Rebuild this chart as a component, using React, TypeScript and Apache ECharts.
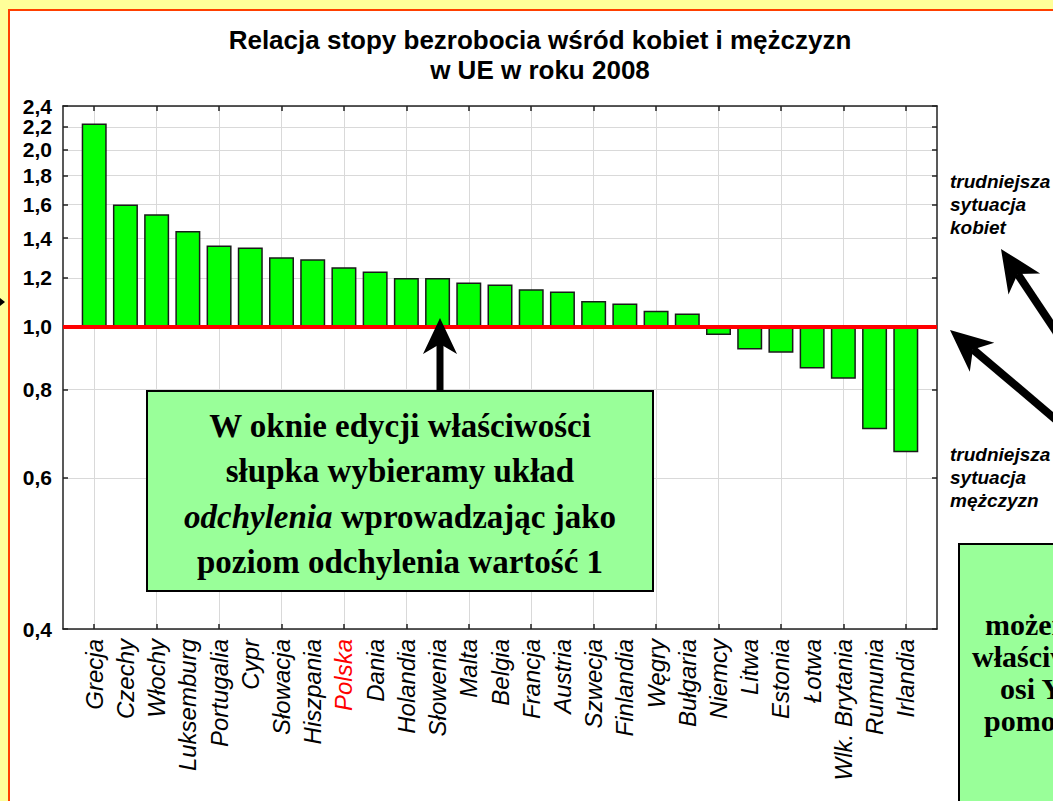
import React, { useEffect, useRef } from 'react';
import * as echarts from 'echarts';

// ---- data ----
const countries: string[] = [
  'Grecja', 'Czechy', 'Włochy', 'Luksemburg', 'Portugalia', 'Cypr', 'Słowacja', 'Hiszpania', 'Polska',
  'Dania', 'Holandia', 'Słowenia', 'Malta', 'Belgia', 'Francja', 'Austria', 'Szwecja', 'Finlandia',
  'Węgry', 'Bułgaria', 'Niemcy', 'Litwa', 'Estonia', 'Łotwa', 'Wlk. Brytania', 'Rumunia', 'Irlandia',
];
const ratios: number[] = [
  2.23, 1.6, 1.54, 1.44, 1.36, 1.35, 1.3, 1.29, 1.25,
  1.23, 1.2, 1.2, 1.18, 1.17, 1.15, 1.14, 1.1, 1.09,
  1.06, 1.05, 0.97, 0.92, 0.91, 0.86, 0.83, 0.7, 0.65,
];
const yTicks: number[] = [0.4, 0.6, 0.8, 1.0, 1.2, 1.4, 1.6, 1.8, 2.0, 2.2, 2.4];
const highlighted = 'Polska';
const baseline = 1.0; // deviation level
const scaleOffset = 0.2; // axis scale: ln(v - 0.2)
const titleLines = ['Relacja stopy bezrobocia wśród kobiet i mężczyzn', 'w UE w roku 2008'];

// ---- axis transform ----
const fwd = (v: number) => Math.log((v - scaleOffset) / (baseline - scaleOffset));
const inv = (t: number) => scaleOffset + (baseline - scaleOffset) * Math.exp(t);

const SANS = '"Liberation Sans", Arial, sans-serif';
const SERIF = '"Liberation Serif", "Times New Roman", serif';

function arrow(tip: number[], tail: number[], L: number, W: number, n: number, w: number) {
  const dx = tip[0] - tail[0];
  const dy = tip[1] - tail[1];
  const len = Math.hypot(dx, dy);
  const ux = dx / len, uy = dy / len;
  const px = -uy, py = ux;
  const back = [tip[0] - L * ux, tip[1] - L * uy];
  const notch = [tip[0] - (L - n) * ux, tip[1] - (L - n) * uy];
  return [
    { type: 'polyline', z: 100, shape: { points: [tail, notch] }, style: { stroke: '#000', lineWidth: w, fill: null } },
    {
      type: 'polygon', z: 101,
      shape: { points: [tip, [back[0] + W * px, back[1] + W * py], notch, [back[0] - W * px, back[1] - W * py]] },
      style: { fill: '#000' },
    },
  ];
}

export default function App() {
  const ref = useRef<HTMLDivElement>(null);

  useEffect(() => {
    if (!ref.current) return;
    const chart = echarts.init(ref.current, null, { renderer: 'svg' });
    const cats = [' ', ...countries, '  '];
    const values: any[] = ['-', ...ratios.map(fwd), '-'];
    const oddOnly = (i: number) => i % 2 === 1;
    const yMin = fwd(yTicks[0]);
    const yMax = fwd(yTicks[yTicks.length - 1]);
    const yLabelStyle = {
      margin: 11, fontWeight: 'bold', fontFamily: SANS, fontSize: 21, color: '#000',
      formatter: (t: number) => inv(t).toFixed(1).replace('.', ','),
    };

    const option: any = {
      animation: false,
      backgroundColor: '#ffffff',
      grid: { left: 63, right: 116, top: 106, bottom: 172, containLabel: false, outerBoundsMode: 'none' },
      xAxis: [
        {
          type: 'category', data: cats, boundaryGap: false, position: 'bottom',
          axisLine: { show: true, onZero: false, lineStyle: { color: '#222', width: 1.5 } },
          axisTick: { show: true, inside: true, length: 5, interval: oddOnly, lineStyle: { color: '#222', width: 1.5 } },
          splitLine: { show: true, interval: oddOnly, lineStyle: { color: '#d9d9d9', width: 1 } },
          axisLabel: {
            interval: 0, rotate: 90, margin: 10,
            fontStyle: 'italic', fontFamily: SANS, fontSize: 24,
            color: (val: string) => (val === highlighted ? '#ff0000' : '#000000'),
          },
        },
        {
          type: 'category', data: cats, boundaryGap: false, position: 'top',
          axisLine: { show: true, onZero: false, lineStyle: { color: '#222', width: 1.5 } },
          axisTick: { show: true, inside: true, length: 5, interval: oddOnly, lineStyle: { color: '#222', width: 1.5 } },
          splitLine: { show: false },
          axisLabel: { show: false },
        },
      ],
      yAxis: [
        {
          type: 'value', position: 'left', min: yMin, max: yMax,
          axisLine: { show: true, onZero: false, lineStyle: { color: '#222', width: 1.5 } },
          axisTick: { show: true, inside: true, length: 5, customValues: yTicks.map(fwd), lineStyle: { color: '#222', width: 1.5 } },
          splitLine: { show: true, lineStyle: { color: '#d9d9d9', width: 1 } },
          axisLabel: { ...yLabelStyle, customValues: yTicks.slice(0, -1).map(fwd), showMinLabel: true, showMaxLabel: true },
        },
        {
          type: 'value', position: 'right', min: yMin, max: yMax,
          axisLine: { show: true, onZero: false, lineStyle: { color: '#222', width: 1.5 } },
          axisTick: { show: true, inside: true, length: 5, customValues: yTicks.map(fwd), lineStyle: { color: '#222', width: 1.5 } },
          splitLine: { show: false },
          axisLabel: { show: false },
        },
        {
          // separate label holder for the top tick, so it is not dropped as overlapping
          type: 'value', position: 'left', offset: 0, min: yMin, max: yMax,
          axisLine: { show: false }, axisTick: { show: false }, splitLine: { show: false },
          axisLabel: { ...yLabelStyle, customValues: yTicks.slice(-1).map(fwd), showMinLabel: true, showMaxLabel: true },
        },
      ],
      series: [
        {
          type: 'bar', xAxisIndex: 0, yAxisIndex: 0, data: values, barWidth: 25,
          itemStyle: { color: '#00ff00', borderColor: '#1a1a1a', borderWidth: 1.5 },
          emphasis: { disabled: true },
          markLine: {
            silent: true, symbol: 'none', label: { show: false },
            lineStyle: { color: '#ff0000', width: 4, type: 'solid' },
            data: [{ yAxis: fwd(baseline) }],
          },
        },
      ],
      graphic: [
        // outer slide frame
        { type: 'rect', z: 90, shape: { x: 0, y: 0, width: 1053, height: 9 }, style: { fill: '#ffff99' } },
        { type: 'rect', z: 90, shape: { x: 0, y: 0, width: 8, height: 801 }, style: { fill: '#ffff99' } },
        { type: 'polyline', z: 91, shape: { points: [[9, 801], [9, 10], [1053, 10]] }, style: { stroke: '#ff4000', lineWidth: 2, fill: null } },
        // title
        {
          type: 'text', z: 100, x: 540, y: 25,
          style: {
            text: titleLines.join('\n'), align: 'center', verticalAlign: 'top',
            fontFamily: SANS, fontWeight: 'bold', fontSize: 26, lineHeight: 30, fill: '#000',
          },
        },
        // right annotations
        {
          type: 'text', z: 100, x: 950, y: 170,
          style: {
            text: 'trudniejsza\nsytuacja\nkobiet', align: 'left', verticalAlign: 'top',
            fontFamily: SANS, fontWeight: 'bold', fontStyle: 'italic', fontSize: 19, lineHeight: 23, fill: '#000',
          },
        },
        {
          type: 'text', z: 100, x: 950, y: 443,
          style: {
            text: 'trudniejsza\nsytuacja\nmężczyzn', align: 'left', verticalAlign: 'top',
            fontFamily: SANS, fontWeight: 'bold', fontStyle: 'italic', fontSize: 19, lineHeight: 23, fill: '#000',
          },
        },
        ...arrow([1001, 249], [1085, 375], 42, 19, 12, 8),
        ...arrow([950, 330], [1080, 440], 42, 19, 12, 8),
        ...arrow([440, 318], [440, 392], 36, 17, 10, 7),
        { type: 'polygon', z: 101, shape: { points: [[5, 302], [0, 298], [0, 306]] }, style: { fill: '#000' } },
        // middle info box
        {
          type: 'rect', z: 100, shape: { x: 147, y: 391, width: 506, height: 200 },
          style: { fill: '#99ff99', stroke: '#000', lineWidth: 2 },
        },
        {
          type: 'text', z: 101, x: 400, y: 494,
          style: {
            text: '{b|W oknie edycji właściwości}\n{b|słupka wybieramy układ}\n{i|odchylenia}{b| wprowadzając jako}\n{b|poziom odchylenia wartość 1}',
            align: 'center', verticalAlign: 'middle', lineHeight: 45.5, fill: '#000',
            rich: {
              b: { fontFamily: SERIF, fontWeight: 'bold', fontSize: 33, lineHeight: 45.5, fill: '#000' },
              i: { fontFamily: SERIF, fontWeight: 'bold', fontStyle: 'italic', fontSize: 33, lineHeight: 45.5, fill: '#000' },
            },
          },
        },
        // bottom-right info box (cut off by the slide edge, as in the reference)
        {
          type: 'rect', z: 100, shape: { x: 959, y: 544, width: 220, height: 300 },
          style: { fill: '#99ff99', stroke: '#000', lineWidth: 2 },
        },
        {
          type: 'text', z: 101, x: 972, y: 608,
          style: {
            text: '{a|możemy}\n{b|właściwości}\n{c|osi Y}\n{d|pomocniczej}',
            align: 'left', verticalAlign: 'top', lineHeight: 32, fill: '#000',
            rich: {
              a: { fontFamily: SERIF, fontWeight: 'bold', fontSize: 30, lineHeight: 32, padding: [0, 0, 0, 13] },
              b: { fontFamily: SERIF, fontWeight: 'bold', fontSize: 30, lineHeight: 32 },
              c: { fontFamily: SERIF, fontWeight: 'bold', fontSize: 30, lineHeight: 32, padding: [0, 0, 0, 28] },
              d: { fontFamily: SERIF, fontWeight: 'bold', fontSize: 30, lineHeight: 32, padding: [0, 0, 0, 12] },
            },
          },
        },
      ],
    };

    chart.setOption(option);
    return () => chart.dispose();
  }, []);

  return <div ref={ref} style={{ position: 'fixed', left: 0, top: 0, width: 1053, height: 801 }} />;
}
